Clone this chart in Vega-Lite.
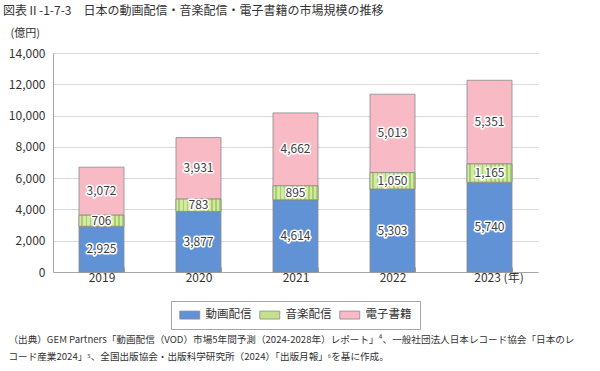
{
  "$schema": "https://vega.github.io/schema/vega-lite/v6.json",
  "autosize": {"type": "none"},
  "width": 485,
  "height": 219,
  "padding": {"left": 53, "top": 53, "right": 62, "bottom": 99},
  "background": "white",
  "config": {
    "view": {"stroke": null},
    "font": "Noto Sans CJK JP",
    "text": {"font": "Noto Sans CJK JP"},
    "axisY": {
      "labelFontSize": 12,
      "labelColor": "#333333",
      "labelFont": "Noto Sans CJK JP",
      "labelPadding": 8,
      "ticks": false,
      "domainColor": "#a6a6a6",
      "gridColor": "#d9d9d9",
      "titleAngle": 0,
      "titleAlign": "left",
      "titleBaseline": "middle",
      "titleX": -43,
      "titleY": -20,
      "titleFont": "Noto Sans CJK JP",
      "titleFontSize": 11,
      "titleFontWeight": "normal",
      "titleColor": "#333333"
    }
  },
  "title": {
    "text": "図表Ⅱ-1-7-3　日本の動画配信・音楽配信・電子書籍の市場規模の推移",
    "anchor": "start",
    "frame": "group",
    "dx": -50,
    "dy": -5,
    "fontSize": 12,
    "fontWeight": "normal",
    "color": "#333333",
    "font": "Noto Sans CJK JP",
    "offset": 4
  },
  "data": {
    "values": [
      {"year": "2019", "type": "動画配信", "value": 2925, "order": 1},
      {"year": "2019", "type": "音楽配信", "value": 706, "order": 2},
      {"year": "2019", "type": "電子書籍", "value": 3072, "order": 3},
      {"year": "2020", "type": "動画配信", "value": 3877, "order": 1},
      {"year": "2020", "type": "音楽配信", "value": 783, "order": 2},
      {"year": "2020", "type": "電子書籍", "value": 3931, "order": 3},
      {"year": "2021", "type": "動画配信", "value": 4614, "order": 1},
      {"year": "2021", "type": "音楽配信", "value": 895, "order": 2},
      {"year": "2021", "type": "電子書籍", "value": 4662, "order": 3},
      {"year": "2022", "type": "動画配信", "value": 5303, "order": 1},
      {"year": "2022", "type": "音楽配信", "value": 1050, "order": 2},
      {"year": "2022", "type": "電子書籍", "value": 5013, "order": 3},
      {"year": "2023", "type": "動画配信", "value": 5740, "order": 1},
      {"year": "2023", "type": "音楽配信", "value": 1165, "order": 2},
      {"year": "2023", "type": "電子書籍", "value": 5351, "order": 3}
    ]
  },
  "transform": [
    {"stack": "value", "groupby": ["year"], "sort": [{"field": "order", "order": "ascending"}], "as": ["v0", "v1"]},
    {"calculate": "(datum.v0 + datum.v1) / 2", "as": "mid"}
  ],
  "encoding": {
    "x": {
      "field": "year",
      "type": "ordinal",
      "scale": {"paddingInner": 0.536, "paddingOuter": 0.268},
      "axis": {
        "labelAngle": 0,
        "labelFontSize": 12,
        "labelColor": "#333333",
        "labelFont": "Noto Sans CJK JP",
        "labelPadding": 5,
        "labelExpr": "datum.label == '2023' ? '2023 (年)' : datum.label",
        "labelOffset": {"condition": {"test": "datum.label == '2023'", "value": 9}, "value": 0},
        "domainColor": "#a6a6a6",
        "tickColor": "#a6a6a6",
        "tickSize": -5,
        "tickBand": "extent",
        "grid": false,
        "title": [
          "（出典）GEM Partners「動画配信（VOD）市場5年間予測（2024-2028年）レポート」⁴、一般社団法人日本レコード協会「日本のレ",
          "コード産業2024」⁵、全国出版協会・出版科学研究所（2024）「出版月報」⁶を基に作成。"
        ],
        "titleFont": "Noto Sans CJK JP",
        "titleFontSize": 9.6,
        "titleFontWeight": "normal",
        "titleColor": "#333333",
        "titleAlign": "left",
        "titleAnchor": "start",
        "titleBaseline": "top",
        "titleX": -45,
        "titleY": 62,
        "titleLineHeight": 17
      }
    },
    "y": {
      "field": "v0",
      "type": "quantitative",
      "scale": {"domain": [0, 14000]},
      "axis": {
        "values": [0, 2000, 4000, 6000, 8000, 10000, 12000, 14000],
        "format": ",d",
        "title": "(億円)"
      }
    }
  },
  "layer": [
    {
      "mark": {"type": "bar", "stroke": "#8a8a8a", "strokeWidth": 0.8},
      "encoding": {
        "y2": {"field": "v1"},
        "color": {
          "field": "type",
          "type": "nominal",
          "scale": {
            "domain": ["動画配信", "音楽配信", "電子書籍"],
            "range": ["#6092d5", "#c3e08c", "#f8bac5"]
          },
          "legend": {
            "title": null,
            "orient": "none",
            "direction": "horizontal",
            "legendX": 118,
            "legendY": 248,
            "strokeColor": "#a6a6a6",
            "padding": 8,
            "symbolType": "M-1,-0.8H3V0.8H-1Z",
            "symbolSize": 100,
            "symbolStrokeColor": "#8a8a8a",
            "symbolStrokeWidth": 0.8,
            "labelOffset": 15,
            "labelFontSize": 11.5,
            "labelFont": "Noto Sans CJK JP",
            "labelColor": "#333333",
            "columnPadding": 6
          }
        }
      }
    },
    {
      "transform": [{"filter": "datum.type == '音楽配信'"}],
      "mark": {
        "type": "bar",
        "stroke": "#8a8a8a",
        "strokeWidth": 0.8,
        "fill": {
          "gradient": "linear",
          "x1": 0, "x2": 1, "y1": 0, "y2": 0,
          "stops": [
            {"offset": 0, "color": "#d3eaa6"}, {"offset": 0.0545, "color": "#d3eaa6"}, {"offset": 0.0545, "color": "#a9cf6c"}, {"offset": 0.0909, "color": "#a9cf6c"},
            {"offset": 0.0909, "color": "#d3eaa6"}, {"offset": 0.1455, "color": "#d3eaa6"}, {"offset": 0.1455, "color": "#a9cf6c"}, {"offset": 0.1818, "color": "#a9cf6c"},
            {"offset": 0.1818, "color": "#d3eaa6"}, {"offset": 0.2364, "color": "#d3eaa6"}, {"offset": 0.2364, "color": "#a9cf6c"}, {"offset": 0.2727, "color": "#a9cf6c"},
            {"offset": 0.2727, "color": "#d3eaa6"}, {"offset": 0.3273, "color": "#d3eaa6"}, {"offset": 0.3273, "color": "#a9cf6c"}, {"offset": 0.3636, "color": "#a9cf6c"},
            {"offset": 0.3636, "color": "#d3eaa6"}, {"offset": 0.4182, "color": "#d3eaa6"}, {"offset": 0.4182, "color": "#a9cf6c"}, {"offset": 0.4545, "color": "#a9cf6c"},
            {"offset": 0.4545, "color": "#d3eaa6"}, {"offset": 0.5091, "color": "#d3eaa6"}, {"offset": 0.5091, "color": "#a9cf6c"}, {"offset": 0.5455, "color": "#a9cf6c"},
            {"offset": 0.5455, "color": "#d3eaa6"}, {"offset": 0.6, "color": "#d3eaa6"}, {"offset": 0.6, "color": "#a9cf6c"}, {"offset": 0.6364, "color": "#a9cf6c"},
            {"offset": 0.6364, "color": "#d3eaa6"}, {"offset": 0.6909, "color": "#d3eaa6"}, {"offset": 0.6909, "color": "#a9cf6c"}, {"offset": 0.7273, "color": "#a9cf6c"},
            {"offset": 0.7273, "color": "#d3eaa6"}, {"offset": 0.7818, "color": "#d3eaa6"}, {"offset": 0.7818, "color": "#a9cf6c"}, {"offset": 0.8182, "color": "#a9cf6c"},
            {"offset": 0.8182, "color": "#d3eaa6"}, {"offset": 0.8727, "color": "#d3eaa6"}, {"offset": 0.8727, "color": "#a9cf6c"}, {"offset": 0.9091, "color": "#a9cf6c"},
            {"offset": 0.9091, "color": "#d3eaa6"}, {"offset": 0.9636, "color": "#d3eaa6"}, {"offset": 0.9636, "color": "#a9cf6c"}, {"offset": 1, "color": "#a9cf6c"}
          ]
        }
      },
      "encoding": {
        "y2": {"field": "v1"}
      }
    },
    {
      "mark": {"type": "text", "fontSize": 12, "stroke": "white", "strokeWidth": 3, "fill": "white", "strokeJoin": "round", "baseline": "middle"},
      "encoding": {
        "y": {
          "field": "mid",
          "type": "quantitative",
          "axis": {
            "values": [0, 2000, 4000, 6000, 8000, 10000, 12000, 14000],
            "format": ",d",
            "title": "(億円)"
          }
        },
        "text": {"field": "value", "type": "quantitative", "format": ","}
      }
    },
    {
      "mark": {"type": "text", "fontSize": 12, "fill": "#404040", "baseline": "middle"},
      "encoding": {
        "y": {
          "field": "mid",
          "type": "quantitative",
          "axis": {
            "values": [0, 2000, 4000, 6000, 8000, 10000, 12000, 14000],
            "format": ",d",
            "title": "(億円)"
          }
        },
        "text": {"field": "value", "type": "quantitative", "format": ","}
      }
    }
  ]
}
